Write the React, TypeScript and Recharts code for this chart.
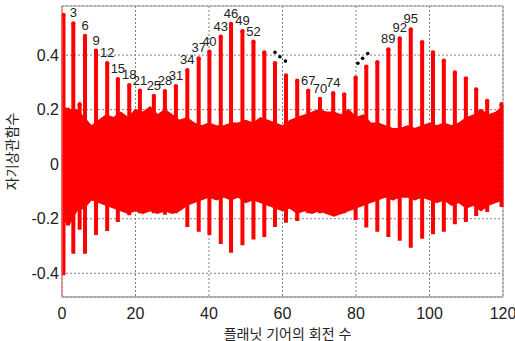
import {
  ComposedChart,
  Area,
  Scatter,
  ErrorBar,
  XAxis,
  YAxis,
  CartesianGrid,
  ReferenceArea,
} from 'recharts';

const FONT = "'Liberation Sans', 'Noto Sans CJK KR', Arial, sans-serif";

// main spikes (one every ~3 rotations)
const spikeX = [
  0.4, 1.6, 3.08, 4.8, 6.26, 9.25, 12.3, 15.2, 18.3, 21.2, 25.0, 28.0, 31.0, 34.1, 37.2, 40.1, 43.2,
  46.0, 49.1, 52.1, 55.05, 57.96, 60.95, 64.0, 67.0, 70.2, 73.8, 76.8, 79.9, 82.8, 85.8, 88.8,
  91.9, 94.9, 98.0, 100.95, 103.9, 106.9, 109.9, 112.7, 115.7, 119.6,
];
const spikeTop = [
  0.547, 0.2, 0.516, 0.22, 0.47, 0.416, 0.37, 0.312, 0.29, 0.269, 0.25, 0.268, 0.286, 0.345, 0.388,
  0.412, 0.467, 0.514, 0.488, 0.449, 0.41, 0.37, 0.325, 0.306, 0.269, 0.239, 0.26, 0.256, 0.317,
  0.357, 0.374, 0.421, 0.461, 0.494, 0.447, 0.41, 0.379, 0.336, 0.314, 0.274, 0.232, 0.22,
];
const spikeBottom = [
  -0.407, -0.225, -0.328, -0.24, -0.328, -0.26, -0.245, -0.212, -0.187, -0.18, -0.18, -0.185, -0.18,
  -0.23, -0.248, -0.26, -0.293, -0.325, -0.297, -0.276, -0.267, -0.23, -0.215, -0.208, -0.18,
  -0.18, -0.185, -0.18, -0.205, -0.232, -0.248, -0.267, -0.281, -0.306, -0.273, -0.257, -0.248,
  -0.22, -0.212, -0.19, -0.175, -0.157,
];

// dense body of the correlation (upper / lower envelope)
const envX = [
  0, 2, 4, 6, 8, 10, 12, 14, 16, 18, 20, 22, 24, 26, 28, 30, 32, 34, 36, 38, 40, 42, 44, 46, 48, 50,
  52, 54, 56, 58, 60, 62, 64, 66, 68, 70, 72, 74, 76, 78, 80, 82, 84, 86, 88, 90, 92, 94, 96, 98,
  100, 102, 104, 106, 108, 110, 112, 114, 116, 118, 120,
];
const envHigh = [
  0.21, 0.2, 0.2, 0.17, 0.14, 0.16, 0.18, 0.17, 0.19, 0.17, 0.2, 0.19, 0.21, 0.18, 0.2, 0.18, 0.16,
  0.17, 0.15, 0.14, 0.15, 0.14, 0.14, 0.15, 0.15, 0.16, 0.15, 0.17, 0.16, 0.15, 0.14, 0.16, 0.17,
  0.18, 0.19, 0.2, 0.19, 0.19, 0.18, 0.2, 0.17, 0.18, 0.15, 0.15, 0.14, 0.13, 0.13, 0.14, 0.13,
  0.14, 0.15, 0.14, 0.15, 0.14, 0.15, 0.17, 0.18, 0.2, 0.18, 0.19, 0.21,
];
const envLow = [
  -0.2, -0.22, -0.17, -0.16, -0.13, -0.14, -0.15, -0.16, -0.17, -0.18, -0.17, -0.18, -0.17, -0.18,
  -0.17, -0.18, -0.17, -0.15, -0.14, -0.13, -0.12, -0.13, -0.12, -0.13, -0.12, -0.14, -0.13, -0.14,
  -0.15, -0.16, -0.17, -0.16, -0.18, -0.17, -0.18, -0.17, -0.18, -0.19, -0.18, -0.17, -0.16, -0.15,
  -0.14, -0.13, -0.12, -0.13, -0.12, -0.12, -0.13, -0.12, -0.13, -0.14, -0.13, -0.15, -0.14, -0.16,
  -0.15, -0.17, -0.15, -0.14, -0.13,
];

// "..." marks
const dotX = [57.96, 59.3, 60.8, 80.5, 81.8, 83.2];
const dotY = [0.41, 0.394, 0.378, 0.37, 0.388, 0.406];

const peakLabels = ['3', '6', '9', '12', '15', '18', '21', '25', '28', '31', '34', '37', '40', '43', '46', '49', '52', '67', '70', '74', '89', '92', '95'];
const peakLabelX = [3.08, 6.26, 9.25, 12.3, 15.2, 18.3, 21.2, 25.0, 28.0, 31.0, 34.1, 37.2, 40.1, 43.2, 46.0, 49.1, 52.1, 67.0, 70.2, 73.8, 88.8, 91.9, 94.9];
const peakLabelY = [0.516, 0.47, 0.416, 0.37, 0.312, 0.29, 0.269, 0.25, 0.268, 0.286, 0.345, 0.388, 0.412, 0.467, 0.514, 0.488, 0.449, 0.269, 0.239, 0.26, 0.421, 0.461, 0.494];

const xTicks = [0, 20, 40, 60, 80, 100, 120];
const yTicks = [-0.4, -0.2, 0, 0.2, 0.4];

// spike drawn from its top down to its bottom value
const spikes = spikeX.map((x, i) => ({ x, y: spikeTop[i], err: [spikeTop[i] - spikeBottom[i], 0] }));
const envelope = envX.map((x, i) => ({ x, band: [envLow[i], envHigh[i]] }));
const dots = dotX.map((x, i) => ({ x, y: dotY[i] }));
const labels = peakLabels.map((label, i) => ({ x: peakLabelX[i], y: peakLabelY[i], label }));

const RED = '#ff0000';

export default function App() {
  return (
    <div style={{ position: 'absolute', left: 0, top: 0, width: 515, height: 341, background: '#fff' }}>
      <ComposedChart width={515} height={341} margin={{ top: 6, right: 12, bottom: 0, left: 0 }}>
        <CartesianGrid stroke="#808080" strokeDasharray="2 2" />
        <XAxis
          dataKey="x"
          type="number"
          domain={[0, 120]}
          ticks={xTicks}
          allowDataOverflow
          height={44}
          tickSize={0}
          tickMargin={11}
          axisLine={{ stroke: '#a0a0a0' }}
          tick={{ fill: '#222', fontSize: 16, fontFamily: FONT }}
          label={{ value: '플래닛 기어의 회전 수', position: 'insideBottom', offset: 2, dx: 5, fill: '#222', fontSize: 14, fontFamily: FONT }}
        />
        <YAxis
          dataKey="y"
          type="number"
          domain={[-0.487, 0.58]}
          ticks={yTicks}
          allowDataOverflow
          width={62}
          tickSize={0}
          tickMargin={3}
          axisLine={{ stroke: '#f07070' }}
          tickFormatter={(v: number) => (v === 0 ? '0' : v.toFixed(1))}
          tick={{ fill: '#222', fontSize: 16, fontFamily: FONT }}
          label={{ value: '자기상관함수', angle: -90, position: 'insideLeft', offset: 12, style: { textAnchor: 'middle' }, fill: '#222', fontSize: 14, fontFamily: FONT }}
        />
        <Area
          data={envelope}
          dataKey="band"
          type="linear"
          stroke={RED}
          strokeWidth={1.5}
          fill={RED}
          fillOpacity={1}
          dot={false}
          activeDot={false}
          isAnimationActive={false}
        />
        <Scatter
          data={spikes}
          dataKey="y"
          isAnimationActive={false}
          shape={(p: any) => <circle cx={p.cx} cy={p.cy} r={2.2} fill={RED} />}
        >
          <ErrorBar dataKey="err" direction="y" width={0} stroke={RED} strokeWidth={4} isAnimationActive={false} />
        </Scatter>
        <Scatter
          data={dots}
          dataKey="y"
          isAnimationActive={false}
          shape={(p: any) => <circle cx={p.cx} cy={p.cy} r={1.8} fill="#000" />}
        />
        <Scatter
          data={labels}
          dataKey="y"
          isAnimationActive={false}
          shape={(p: any) => (
            <text x={p.cx} y={p.cy - 6} textAnchor="middle" fill="#222" fontSize={13} fontFamily={FONT}>
              {p.payload.label}
            </text>
          )}
        />
        <ReferenceArea x1={0} x2={120} y1={-0.487} y2={0.58} fill="none" stroke="#a0a0a0" ifOverflow="visible" />
      </ComposedChart>
    </div>
  );
}
